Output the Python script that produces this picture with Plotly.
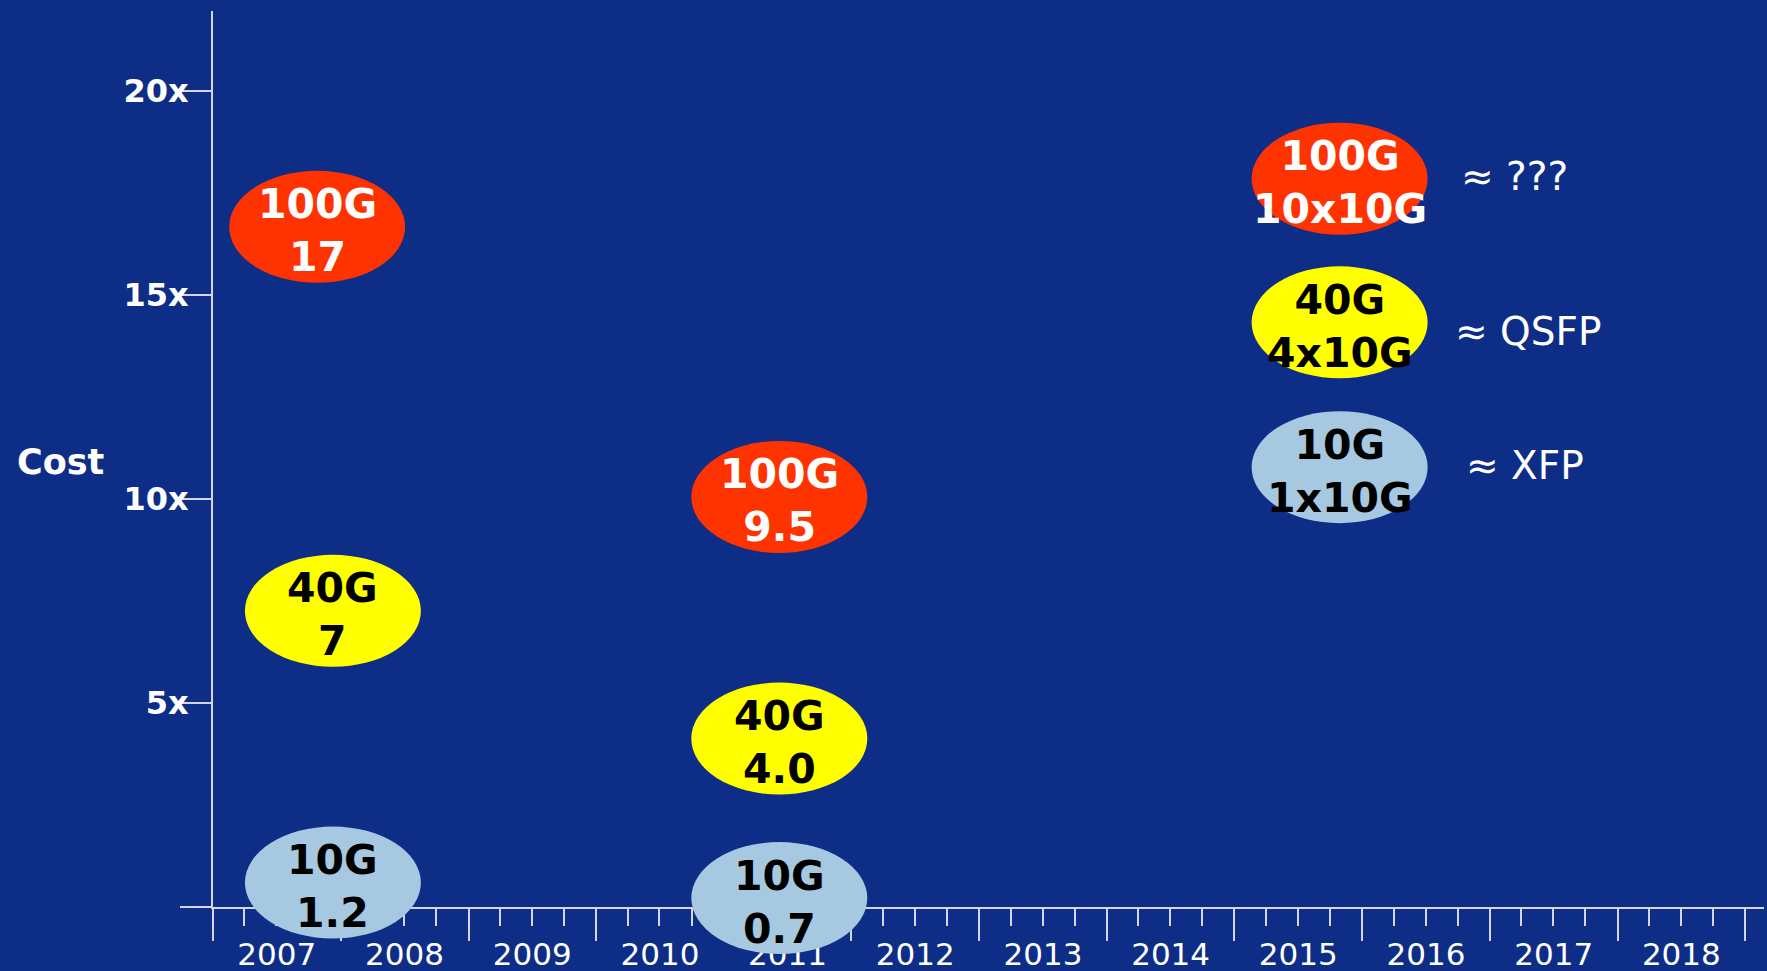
import plotly.graph_objects as go

# ---------------- data ----------------
RATES = ["100G", "40G", "10G", "100G", "40G", "10G", "100G", "40G", "10G"]
VALUE_TEXT = ["17", "7", "1.2", "9.5", "4.0", "0.7", "10x10G", "4x10G", "1x10G"]
YEAR_POS = ["2007-10-26", "2007-12-10", "2007-12-10",
            "2011-06-09", "2011-06-09", "2011-06-09",
            "2015-10-29", "2015-10-29", "2015-10-29"]
COST_POS = [16.66, 7.25, 0.59, 10.04, 4.12, 0.21, 17.84, 14.32, 10.77]

FORM_FACTORS = ["\u2248 ???", "\u2248 QSFP", "\u2248 XFP"]
FORM_FACTOR_OF = [6, 7, 8]          # index of the bubble each note belongs to

Y_TICK_VALS = [0, 5, 10, 15, 20]
Y_TICK_TEXT = ["", "5x", "10x", "15x", "20x"]
X_START, X_END = "2007-01-01", "2019-02-24"
Y_MAX = 21.95

# ---------------- style ----------------
BG = "#0E2D87"
AXIS = "#D4D6E6"
FILL = {"100G": "#FF3300", "40G": "#FFFF00", "10G": "#A6C9E1"}
TXT = {"100G": "white", "40G": "black", "10G": "black"}
NOTE_SHIFT = [(119, 2), (113, -9), (124, 2)]

D0 = 0.0522  # bottom of the main y domain (where the x axis sits)

fig = go.Figure()
fig.add_trace(go.Scatter(x=YEAR_POS, y=COST_POS, mode="markers",
                         marker=dict(opacity=0), hoverinfo="skip",
                         xaxis="x", yaxis="y2", showlegend=False))

shapes = []
annotations = []
for rate, txt, xp, yp in zip(RATES, VALUE_TEXT, YEAR_POS, COST_POS):
    shapes.append(dict(type="circle", xref="x", yref="y2",
                       xsizemode="pixel", ysizemode="pixel",
                       xanchor=xp, yanchor=yp, x0=-88, x1=88, y0=-56, y1=56,
                       fillcolor=FILL[rate], line=dict(width=0), layer="above"))
    annotations.append(dict(xref="x", yref="y2", x=xp, y=yp,
                            text=f"{rate}<br>{txt}", showarrow=False,
                            yshift=-4,
                            font=dict(family="DejaVu Sans", size=41,
                                      color=TXT[rate], weight="bold")))

for note, idx, (dx, dy) in zip(FORM_FACTORS, FORM_FACTOR_OF, NOTE_SHIFT):
    annotations.append(dict(xref="x", yref="y2", x=YEAR_POS[idx], y=COST_POS[idx],
                            text=note, showarrow=False, xanchor="left",
                            xshift=dx, yshift=dy,
                            font=dict(family="DejaVu Sans", size=39, color="white")))

annotations.append(dict(xref="paper", yref="y", x=0, y=10.9, xanchor="center",
                        xshift=-153, text="Cost", showarrow=False,
                        font=dict(family="DejaVu Sans", size=35, color="white",
                                  weight="bold")))

fig.update_layout(
    template="none",
    width=1767, height=971,
    margin=dict(l=213, r=3, t=11, b=15, autoexpand=False),
    paper_bgcolor=BG, plot_bgcolor="rgba(0,0,0,0)",
    showlegend=False,
    shapes=shapes, annotations=annotations,
    xaxis=dict(type="date", range=[X_START, X_END], anchor="y",
               automargin=False,
               tick0="2007-01-01", dtick="M12", tickformat="%Y",
               ticklabelmode="period", ticklabelstandoff=-13,
               ticks="outside", ticklen=32, tickwidth=2, tickcolor=AXIS,
               minor=dict(dtick="M3", tick0="2007-01-01", ticks="outside",
                          ticklen=17, tickwidth=2, tickcolor=AXIS, showgrid=False),
               showline=True, linecolor=AXIS, linewidth=2,
               showgrid=False, zeroline=False,
               tickfont=dict(family="DejaVu Sans", size=31, color="white")),
    yaxis=dict(domain=[D0, 1], range=[0, Y_MAX], anchor="x",
               automargin=False,
               tickvals=Y_TICK_VALS, ticktext=Y_TICK_TEXT,
               ticks="outside", ticklen=31, tickwidth=2, tickcolor=AXIS,
               ticklabelstandoff=-15,
               showline=True, linecolor=AXIS, linewidth=2,
               showgrid=False, zeroline=False,
               tickfont=dict(family="DejaVu Sans", size=32, color="white",
                             weight="bold")),
    yaxis2=dict(domain=[0, 1], range=[-Y_MAX * D0 / (1 - D0), Y_MAX],
                anchor="x", visible=False, showgrid=False, zeroline=False,
                automargin=False),
)

fig.write_html("out.html", config={"displayModeBar": False},
               post_script="document.body.style.margin='0px';")
